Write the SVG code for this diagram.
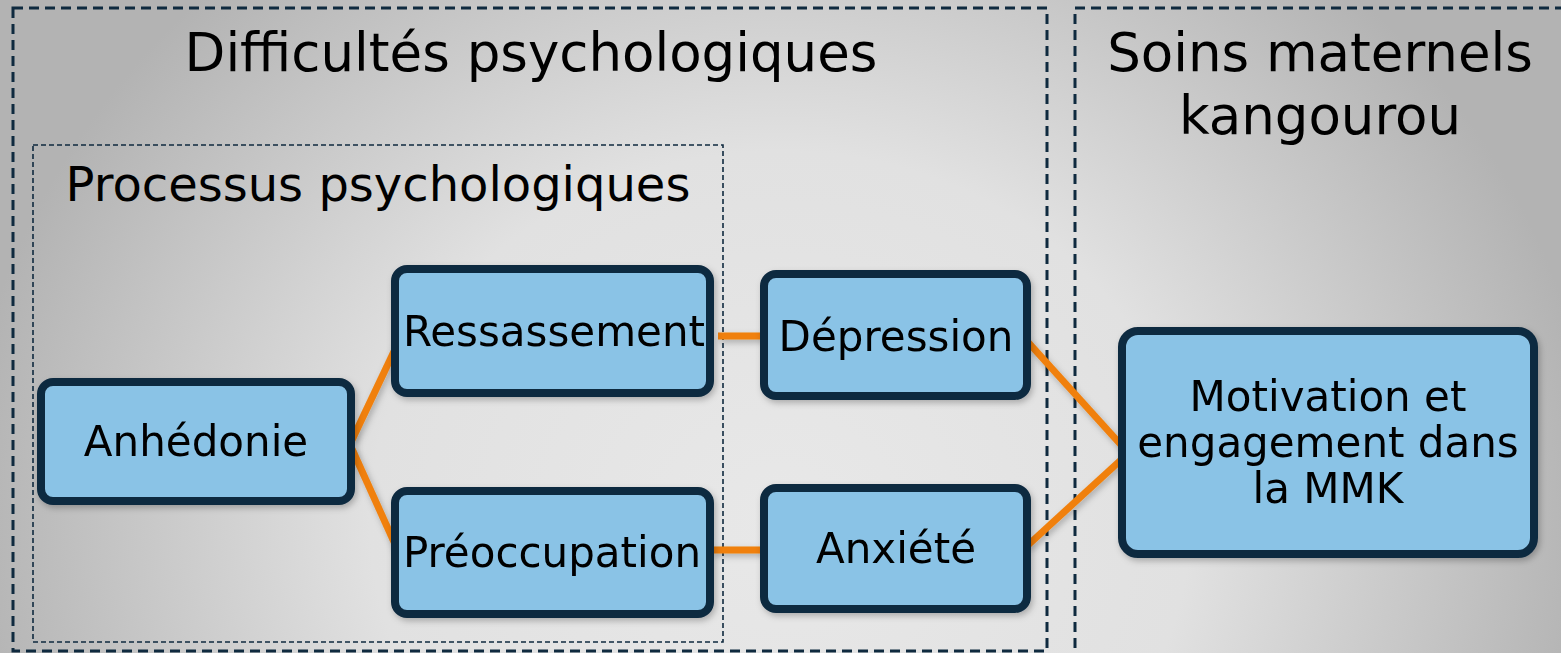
<svg xmlns="http://www.w3.org/2000/svg" width="1561" height="653" viewBox="0 0 1561 653">
<defs>
<radialGradient id="bg" gradientUnits="userSpaceOnUse" cx="780" cy="520" r="820" gradientTransform="translate(780 520) scale(1 0.9) translate(-780 -520)">
<stop offset="0" stop-color="#e8e8e8"/>
<stop offset="0.5" stop-color="#e1e1e1"/>
<stop offset="1" stop-color="#b3b3b3"/>
</radialGradient>
<filter id="sh" x="-20%" y="-20%" width="140%" height="140%">
<feDropShadow dx="2" dy="3" stdDeviation="3" flood-color="#000" flood-opacity="0.25"/>
</filter>
</defs>
<style>
.grp{fill:none;stroke:#0f2a3f;stroke-width:3;stroke-dasharray:10 6}
.sub{fill:none;stroke:#0f2a3f;stroke-width:1.6;stroke-dasharray:5 3}
.node{fill:#8ac3e6;stroke:#112b40;stroke-width:8}
.t{font-family:"DejaVu Sans",Verdana,sans-serif;fill:#000;text-anchor:middle}
.big{font-size:53px}
.mid{font-size:48px}
.lbl{font-size:42px}
.edge{stroke:#f0800c;stroke-width:7;fill:none}
</style>
<rect x="0" y="0" width="1561" height="653" fill="url(#bg)"/>
<g id="group-difficultes">
<rect class="grp" x="13" y="8" width="1034" height="643"/>
<text class="t big" x="531" y="71">Difficultés psychologiques</text>
</g>
<g id="group-soins">
<rect class="grp" x="1075" y="8" width="500" height="660"/>
<text class="t big" x="1320" y="71">Soins maternels</text>
<text class="t big" x="1320" y="134">kangourou</text>
</g>
<g id="group-processus">
<rect class="sub" x="33" y="145" width="690" height="497"/>
<text class="t mid" x="378" y="201">Processus psychologiques</text>
</g>
<g id="connectors" filter="url(#sh)">
<line class="edge" x1="352" y1="440" x2="398" y2="343"/>
<line class="edge" x1="352" y1="449" x2="399" y2="553"/>
<line class="edge" x1="718" y1="336" x2="763" y2="336"/>
<line class="edge" x1="712" y1="550" x2="763" y2="550"/>
<line class="edge" x1="1027" y1="341" x2="1122" y2="446"/>
<line class="edge" x1="1027" y1="546" x2="1122" y2="459"/>
</g>
<g id="node-anhedonie" filter="url(#sh)">
<rect class="node" x="41" y="382" width="310" height="119" rx="12"/>
<text class="t lbl" x="196" y="456">Anhédonie</text>
</g>
<g id="node-ressassement" filter="url(#sh)">
<rect class="node" x="395" y="269" width="315" height="124" rx="12"/>
<text class="t lbl" x="554" y="346">Ressassement</text>
</g>
<g id="node-preoccupation" filter="url(#sh)">
<rect class="node" x="395" y="491" width="315" height="123" rx="12"/>
<text class="t lbl" x="552" y="567">Préoccupation</text>
</g>
<g id="node-depression" filter="url(#sh)">
<rect class="node" x="764" y="274" width="263" height="122" rx="12"/>
<text class="t lbl" x="896" y="351">Dépression</text>
</g>
<g id="node-anxiete" filter="url(#sh)">
<rect class="node" x="764" y="488" width="263" height="121" rx="12"/>
<text class="t lbl" x="896" y="563">Anxiété</text>
</g>
<g id="node-motivation" filter="url(#sh)">
<rect class="node" x="1122" y="331" width="412" height="223" rx="16"/>
<text class="t lbl" x="1328" y="411">Motivation et</text>
<text class="t lbl" x="1328" y="457">engagement dans</text>
<text class="t lbl" x="1328" y="503">la MMK</text>
</g>
</svg>
